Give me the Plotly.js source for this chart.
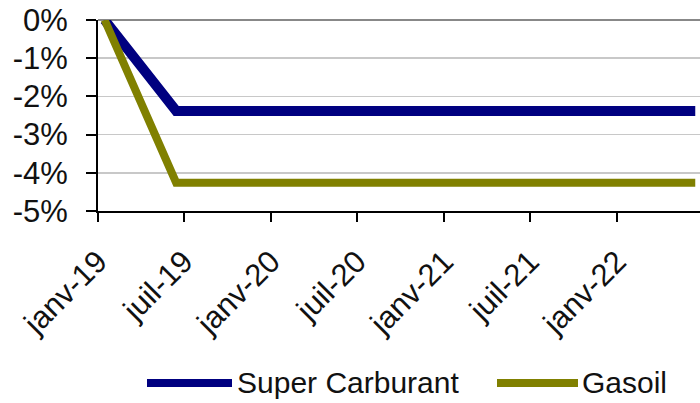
<!DOCTYPE html>
<html>
<head>
<meta charset="utf-8">
<script src="https://cdn.plot.ly/plotly-3.0.1.min.js"></script>
<style>
  html, body { margin: 0; padding: 0; background: #fff; }
  #chart { width: 700px; height: 403px; }
</style>
</head>
<body>
<div id="chart"></div>
<script>
// ---- data ----
const seriesNames = ['Super Carburant', 'Gasoil'];
const dates = ['2019-01-15', '2019-06-15', '2022-06-15'];
const superCarburant = [0, -2.38, -2.38];
const gasoil = [0, -4.26, -4.26];
const xTickVals = ['2019-01-01', '2019-07-01', '2020-01-01', '2020-07-01', '2021-01-01', '2021-07-01', '2022-01-01'];
const xTickText = ['janv-19', 'juil-19', 'janv-20', 'juil-20', 'janv-21', 'juil-21', 'janv-22'];
const yTickVals = [0, -1, -2, -3, -4, -5];
const yTickText = ['0%', '-1%', '-2%', '-3%', '-4%', '-5%'];

// ---- style ----
const colors = ['#000080', '#808000'];
const widths = [10, 8];
const FONT = 'Liberation Sans, Arial, sans-serif';
const M = { l: 98, r: 0, t: 20, b: 192 };
const W = 700 - M.l - M.r, H = 403 - M.t - M.b;
const px = x => (x - M.l) / W;
const py = y => (403 - M.b - y) / H;

const seriesVals = [superCarburant, gasoil];
const traces = seriesVals.map((v, i) => ({
  type: 'scatter', mode: 'lines', x: dates, y: v, name: seriesNames[i],
  line: { color: colors[i], width: widths[i] }, showlegend: false, hoverinfo: 'skip'
}));

// custom legend (line samples + labels)
const legendItems = [
  { x0: 147, x1: 232, tx: 235 },
  { x0: 497, x1: 578, tx: 580 }
];
const legendY = 383;
const shapes = legendItems.map((it, i) => ({
  type: 'line', xref: 'paper', yref: 'paper',
  x0: px(it.x0), x1: px(it.x1), y0: py(legendY), y1: py(legendY),
  line: { color: colors[i], width: 8 }
}));
const annotations = legendItems.map((it, i) => ({
  xref: 'paper', yref: 'paper', x: px(it.tx), y: py(legendY),
  xanchor: 'left', yanchor: 'middle', showarrow: false,
  text: seriesNames[i], font: { family: FONT, size: 30, color: '#111' }
}));

const layout = {
  width: 700, height: 403,
  margin: M,
  paper_bgcolor: '#fff', plot_bgcolor: '#fff',
  showlegend: false,
  font: { family: FONT, color: '#111' },
  xaxis: {
    type: 'date', range: ['2019-01-01', '2022-06-25'],
    tickvals: xTickVals, ticktext: xTickText, tickangle: -45,
    tickfont: { family: FONT, size: 31, color: '#111' },
    showgrid: false, zeroline: false,
    showline: true, linecolor: '#000', linewidth: 2,
    ticks: 'outside', ticklen: 9, tickwidth: 2, tickcolor: '#000',
    ticklabelstandoff: 9,
    fixedrange: true
  },
  yaxis: {
    range: [-5, 0], tickvals: yTickVals, ticktext: yTickText,
    tickfont: { family: FONT, size: 31, color: '#111' },
    showgrid: true, gridcolor: '#c8c8c8', gridwidth: 1.5,
    zeroline: true, zerolinecolor: '#888', zerolinewidth: 1.5,
    showline: true, linecolor: '#000', linewidth: 2,
    ticks: 'outside', ticklen: 10, tickwidth: 2, tickcolor: '#000',
    ticklabelstandoff: 12,
    fixedrange: true
  },
  shapes: shapes,
  annotations: annotations
};

Plotly.newPlot('chart', traces, layout, { staticPlot: true, displayModeBar: false });
</script>
</body>
</html>
